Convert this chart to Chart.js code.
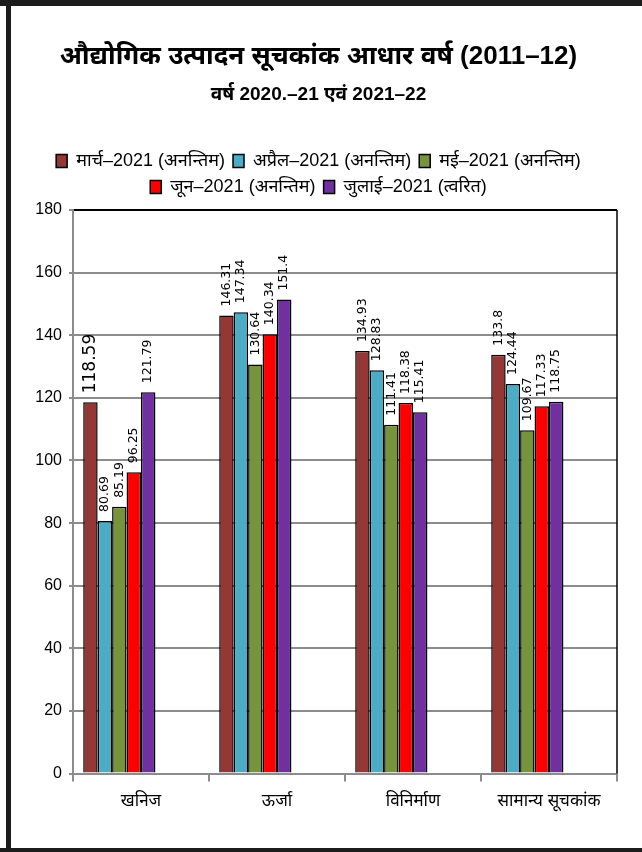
<!DOCTYPE html>
<html>
<head>
<meta charset="utf-8">
<script src="https://cdn.jsdelivr.net/npm/chart.js@4.4.0/dist/chart.umd.min.js"></script>
<style>
  html, body { margin: 0; padding: 0; background: #fff; }
  #wrap { position: relative; width: 642px; height: 852px; }
</style>
</head>
<body>
<div id="wrap"><canvas id="iip-chart"></canvas></div>
<script>
// categories and series
const categories = ['खनिज', 'ऊर्जा', 'विनिर्माण', 'सामान्य सूचकांक'];
const seriesNames = ['मार्च–2021 (अनन्तिम)', 'अप्रैल–2021 (अनन्तिम)', 'मई–2021 (अनन्तिम)', 'जून–2021 (अनन्तिम)', 'जुलाई–2021 (त्वरित)'];
const march = [118.59, 146.31, 134.93, 133.8];
const april = [80.69, 147.34, 128.83, 124.44];
const may = [85.19, 130.64, 111.41, 109.67];
const june = [96.25, 140.34, 118.38, 117.33];
const july = [121.79, 151.4, 115.41, 118.75];
const yTicks = [0, 20, 40, 60, 80, 100, 120, 140, 160, 180];

const colors = ['#953735', '#4bacc6', '#77933c', '#ff0000', '#7030a0'];
const FONT = "'Liberation Sans Narrow', 'Liberation Sans', 'Noto Sans', sans-serif";

const seriesValues = [march, april, may, june, july];
const datasets = seriesValues.map((vals, i) => ({
    label: seriesNames[i],
    data: vals,
    backgroundColor: colors[i],
    borderColor: '#000',
    borderWidth: 1.5,
    borderSkipped: 'bottom'
}));
// the original sheet keeps three empty slots after the five bars
for (let i = 0; i < 3; i++) {
    datasets.push({ label: '', data: categories.map(() => null), backgroundColor: 'rgba(0,0,0,0)' });
}

// white page with the dark frame of the scanned figure
const framePlugin = {
    id: 'frame',
    beforeInit(chart) {
        // a little more room under the legend
        const fit = chart.legend.fit;
        chart.legend.fit = function () {
            fit.bind(chart.legend)();
            this.height += 4;
        };
    },
    beforeDraw(chart) {
        const ctx = chart.ctx;
        ctx.save();
        ctx.fillStyle = '#fff';
        ctx.fillRect(0, 0, chart.width, chart.height);
        ctx.fillStyle = '#1c1c1c';
        ctx.fillRect(0, 0, chart.width, 6);
        ctx.fillRect(6, 0, 5, chart.height);
        ctx.fillRect(0, chart.height - 4, chart.width, 4);
        ctx.restore();
    },
    afterDraw(chart) {
        const a = chart.chartArea;
        const ctx = chart.ctx;
        ctx.save();
        ctx.strokeStyle = '#000';
        ctx.lineWidth = 1.5;
        ctx.beginPath();
        ctx.moveTo(a.right, a.top);
        ctx.lineTo(a.right, a.bottom);
        ctx.stroke();
        ctx.restore();
    }
};

// vertical value labels above each bar
const barLabels = {
    id: 'barLabels',
    afterDatasetsDraw(chart, args, opts) {
        const ctx = chart.ctx;
        chart.data.datasets.forEach((ds, di) => {
            const meta = chart.getDatasetMeta(di);
            if (meta.hidden) return;
            meta.data.forEach((bar, i) => {
                const v = ds.data[i];
                if (v === null || v === undefined) return;
                const big = opts.big && opts.big.dataset === di && opts.big.index === i;
                ctx.save();
                ctx.translate(bar.x, bar.y - opts.offset);
                ctx.rotate(-Math.PI / 2);
                ctx.font = (big ? opts.big.size : opts.size) + "px 'DejaVu Sans', sans-serif";
                ctx.fillStyle = '#000';
                ctx.textAlign = 'left';
                ctx.textBaseline = 'middle';
                ctx.fillText(String(v), 0, 0);
                ctx.restore();
            });
        });
    }
};

new Chart(document.getElementById('iip-chart'), {
    type: 'bar',
    data: { labels: categories, datasets: datasets },
    plugins: [framePlugin, barLabels],
    options: {
        responsive: true,
        maintainAspectRatio: false,
        animation: false,
        devicePixelRatio: 1,
        categoryPercentage: 0.85,
        barPercentage: 1,
        layout: { padding: { left: 20, right: 25, top: 0, bottom: 30 } },
        plugins: {
            title: {
                display: true,
                text: 'औद्योगिक उत्पादन सूचकांक आधार वर्ष (2011–12)',
                color: '#000',
                font: { family: FONT, size: 26, weight: 'bold' },
                padding: { top: 41, bottom: 4 }
            },
            subtitle: {
                display: true,
                text: 'वर्ष 2020.–21 एवं 2021–22',
                color: '#000',
                font: { family: FONT, size: 19, weight: 'bold' },
                padding: { top: 7, bottom: 38 }
            },
            legend: {
                position: 'top',
                labels: {
                    color: '#000',
                    font: { family: FONT, size: 18 },
                    boxWidth: 11,
                    boxHeight: 13,
                    padding: 8,
                    filter: item => item.text !== ''
                }
            },
            tooltip: { enabled: false },
            barLabels: { offset: 9, size: 12.5, big: { dataset: 0, index: 0, size: 17 } }
        },
        scales: {
            x: {
                grid: { display: true, drawOnChartArea: false, color: '#8c8c8c', lineWidth: 2, tickLength: 8, offset: true },
                border: { color: '#8c8c8c', width: 2 },
                ticks: { color: '#000', font: { family: FONT, size: 17 }, padding: 10 }
            },
            y: {
                min: 0,
                max: 180,
                afterBuildTicks(scale) { scale.ticks = yTicks.map(v => ({ value: v })); },
                afterFit(scale) { scale.width = 53; },
                grid: {
                    color: ctx => (ctx.tick && ctx.tick.value === 180 ? '#000' : '#8c8c8c'),
                    tickColor: '#8c8c8c',
                    lineWidth: 2,
                    tickLength: 4
                },
                border: { color: '#8c8c8c', width: 2 },
                ticks: { color: '#000', font: { family: FONT, size: 16 }, padding: 7 }
            }
        }
    }
});
</script>
</body>
</html>
